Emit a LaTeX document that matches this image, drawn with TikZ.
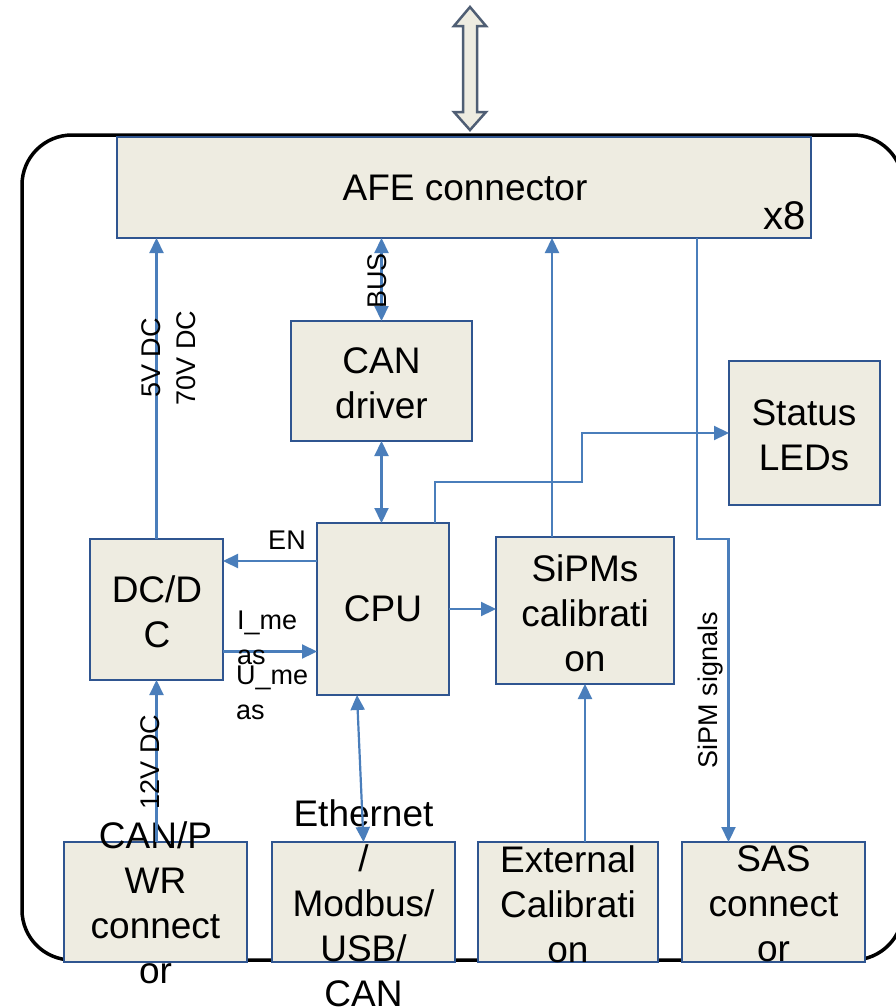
\documentclass[tikz,border=0pt]{standalone}
\usepackage{fontspec}
\setmainfont{Liberation Sans}
\usetikzlibrary{arrows.meta,calc}
\definecolor{boxfill}{HTML}{EEECE1}
\definecolor{boxline}{HTML}{2F5590}
\definecolor{conncol}{HTML}{4A7EBB}
\definecolor{bigarrow}{HTML}{4F5E74}
\tikzset{
  box/.style={draw=boxline, fill=boxfill, line width=2.5pt, inner sep=0pt, outer sep=0pt},
  txt/.style={align=center, inner sep=0pt, font=\fontsize{37}{45}\selectfont},
  lbl/.style={inner sep=0pt, font=\fontsize{27}{35}\selectfont},
  conn/.style={draw=conncol, line width=2.2pt, -{Triangle[length=15pt,width=14pt]}},
  dconn/.style={draw=conncol, line width=2.2pt, {Triangle[length=15pt,width=14pt]}-{Triangle[length=15pt,width=14pt]}},
}
\begin{document}
\begin{tikzpicture}[x=1pt,y=-1pt]
\useasboundingbox (0,0) rectangle (896,1007);
% outer frame
\draw[line width=3.5pt, rounded corners=50pt] (22,135) rectangle (903,960);
% top double arrow
\draw[draw=bigarrow, fill=boxfill, line width=2.5pt, line join=miter]
  (470,7) -- (486,26) -- (477,26) -- (477,112) -- (486,112) -- (470,130)
  -- (454,112) -- (463,112) -- (463,26) -- (454,26) -- cycle;
% boxes
\node[box, minimum width=694pt, minimum height=101pt] (afe) at (464,187.5) {};
\node[txt] (afe-t) at (465,188) {AFE connector};
\node[txt, font=\fontsize{40}{45}\selectfont, anchor=south east] (x8) at (806,230) {x8};
\node[box, minimum width=181pt, minimum height=120pt] (candrv) at (381.5,381) {};
\node[txt] (candrv-t) at (381.5,383) {CAN\\driver};
\node[box, minimum width=151pt, minimum height=144pt] (leds) at (804.5,433) {};
\node[txt] (leds-t) at (804,435) {Status\\LEDs};
\node[box, minimum width=133pt, minimum height=141pt] (dcdc) at (156.5,609.5) {};
\node[txt] (dcdc-t) at (157,612) {DC/D\\C};
\node[box, minimum width=132pt, minimum height=172pt] (cpu) at (383,609) {};
\node[txt] (cpu-t) at (383,609) {CPU};
\node[box, minimum width=178pt, minimum height=147pt] (sipm) at (585,610.5) {};
\node[txt] (sipm-t) at (585,613) {SiPMs\\calibrati\\on};
\node[box, minimum width=183pt, minimum height=120pt] (canpwr) at (155.5,902) {};
\node[txt] (canpwr-t) at (155.5,903) {CAN/P\\WR\\connect\\or};
\node[box, minimum width=183pt, minimum height=120pt] (eth) at (363.5,902) {};
\node[txt] (eth-t) at (363.5,903) {Ethernet\\/\\Modbus/\\USB/\\CAN};
\node[box, minimum width=180pt, minimum height=120pt] (ext) at (568,902) {};
\node[txt] (ext-t) at (568,904) {External\\Calibrati\\on};
\node[box, minimum width=183pt, minimum height=120pt] (sas) at (773.5,902) {};
\node[txt] (sas-t) at (773.5,904) {SAS\\connect\\or};
% connectors
\draw[conn] (dcdc.north) -- (dcdc.north |- afe.south);
\node[lbl, rotate=90, align=center] (pwr-l) at (169,358) {5V DC\\70V DC};
\draw[dconn] (candrv.north) -- (candrv.north |- afe.south);
\node[lbl, rotate=90] (bus-l) at (377,281) {BUS};
\draw[dconn] (candrv.south) -- (candrv.south |- cpu.north);
\coordinate (k1) at (582,482);
\draw[conn] ([xshift=-14pt]cpu.north east) |- (k1) |- (leds.west);
\draw[conn] ([xshift=-33pt]sipm.north) coordinate (s1) -- (s1 |- afe.south);
\coordinate (k2) at (697,539);
\draw[conn] (k2 |- afe.south) -- (k2) -| ([xshift=-45pt]sas.north);
\node[lbl, rotate=90] (sig-l) at (711,690) {SiPM signals};
\draw[conn] ([yshift=48pt]cpu.west) coordinate (e1) -- (e1 -| dcdc.east);
\node[lbl] (en-l) at (287,540) {EN};
\draw[conn] ([yshift=-42pt]dcdc.east) coordinate (i1) -- (i1 -| cpu.west);
\node[lbl, align=left, anchor=north west] (im-l) at (237,611) {I\_me\\as};
\node[lbl, align=left, anchor=north west] (um-l) at (236,666) {U\_me\\as};
\draw[conn] (cpu.east) -- (cpu.east -| sipm.west);
\draw[dconn] ([xshift=-26pt]cpu.south) -- (eth.north);
\draw[conn] (sipm.south |- ext.north) -- (sipm.south);
\draw[conn] (dcdc.south |- canpwr.north) -- (dcdc.south);
\node[lbl, rotate=90] (v12-l) at (150,762) {12V DC};
\end{tikzpicture}
\end{document}
